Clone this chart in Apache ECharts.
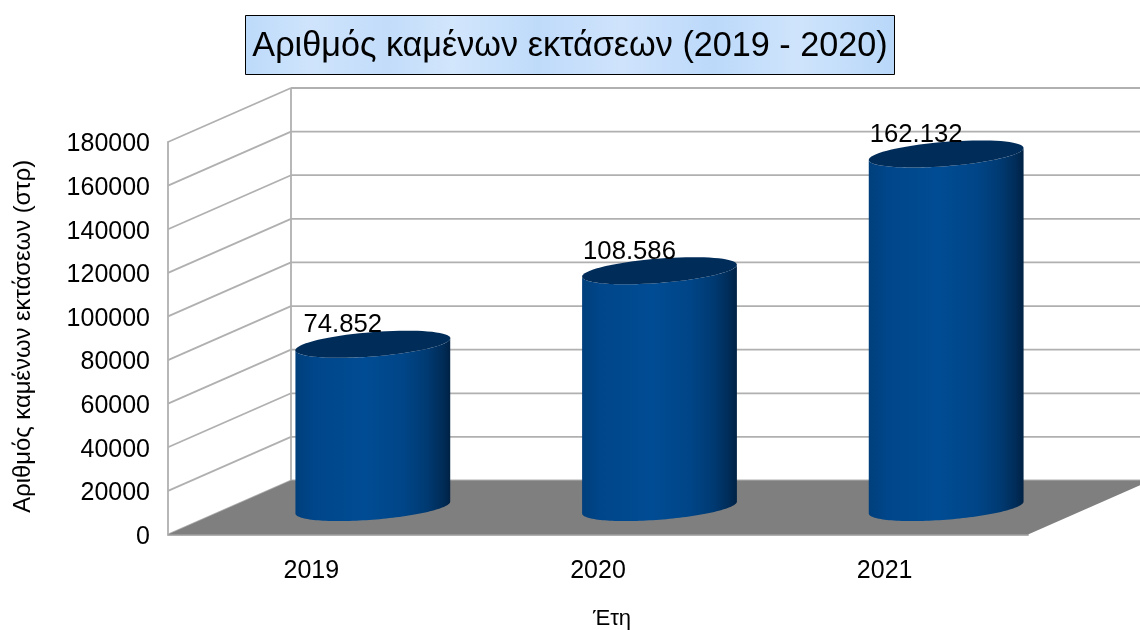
<!DOCTYPE html>
<html><head><meta charset="utf-8">
<style>html,body{margin:0;padding:0;background:#fff}#c{width:1140px;height:630px}</style>
<script src="https://cdn.jsdelivr.net/npm/echarts@6/dist/echarts.min.js"></script>
</head><body><div id="c"></div>
<script>
var categories = ['2019', '2020', '2021'];
var values = [74852, 108586, 162132];
var gridTicks = [0, 20000, 40000, 60000, 80000, 100000, 120000, 140000, 160000, 180000];
var chartTitle = 'Αριθμός καμένων εκτάσεων (2019 - 2020)';
var yName = 'Αριθμός καμένων εκτάσεων (στρ)';
var xName = 'Έτη';

var FONT = '"Liberation Sans", Arial, sans-serif';
var GRID = '#b0b0b0';
var DX = 123, DY = -54;

function thousands(v) { return String(v).replace(/\B(?=(\d{3})+$)/g, '.'); }

function line(x1, y1, x2, y2) {
  return { type: 'line', shape: { x1: x1, y1: y1, x2: x2, y2: y2 }, style: { stroke: GRID, lineWidth: 1.8 } };
}

function renderWalls(params, api) {
  var tick = api.value(0);
  var band = api.size([1, 0])[0];
  var p = api.coord([0, tick]);
  var left = p[0] - band / 2;
  var right = left + band * categories.length;
  var y = p[1];
  var kids = [
    line(left, y, left + DX, y + DY),
    line(left + DX, y + DY, 1140, y + DY)
  ];
  if (tick === 0) {
    var top = api.coord([0, gridTicks[gridTicks.length - 1]])[1];
    kids.unshift(line(left + DX, top + DY, left + DX, y + DY));
    kids.push({
      type: 'polygon',
      shape: { points: [[left, y], [left + DX, y + DY], [right + DX, y + DY], [right, y]] },
      style: { fill: '#7f7f7f' }
    });
  }
  return { type: 'group', children: kids };
}

function ellipsePoints(cx, cy, a, b, k, from, to) {
  var pts = [];
  for (var i = 0; i <= 72; i++) {
    var t = from + (to - from) * i / 72;
    var dx = a * Math.cos(t);
    pts.push([cx + dx, cy - b * Math.sin(t) - k * dx]);
  }
  return pts;
}

function renderCylinder(params, api) {
  var i = api.value(0), v = api.value(1);
  var band = api.size([1, 0])[0];
  var base = api.coord([i, 0]);
  var head = api.coord([i, v]);
  var cx = base[0] + DX / 2;
  var yb = base[1] + DY / 2;
  var yt = head[1] + DY / 2;
  var a = band * 0.27, b = 12.2, k = 0.077;
  var body = ellipsePoints(cx, yb, a, b, k, Math.PI, 2 * Math.PI)
    .concat(ellipsePoints(cx, yt, a, b, k, 0, -Math.PI));
  var grad = new echarts.graphic.LinearGradient(0, 0, 1, 0, [
    { offset: 0, color: '#003f7c' },
    { offset: 0.12, color: '#00468a' },
    { offset: 0.45, color: '#004c94' },
    { offset: 0.7, color: '#004587' },
    { offset: 0.85, color: '#003a72' },
    { offset: 0.95, color: '#002c58' },
    { offset: 1, color: '#002244' }
  ]);
  return {
    type: 'group',
    children: [
      { type: 'polygon', shape: { points: body }, style: { fill: grad } },
      { type: 'polygon', shape: { points: ellipsePoints(cx, yt, a, b, k, 0, 2 * Math.PI) }, style: { fill: '#002c59' } },
      { type: 'text', style: {
          text: thousands(v), x: cx - 30, y: yt - 19, align: 'center', verticalAlign: 'middle',
          font: '25.7px ' + FONT, fill: '#000'
        } }
    ]
  };
}

var chart = echarts.init(document.getElementById('c'), null, { renderer: 'canvas', width: 1140, height: 630 });
chart.setOption({
  animation: false,
  backgroundColor: '#fff',
  textStyle: { fontFamily: FONT },
  title: {
    text: chartTitle, left: 'center', top: 25,
    textStyle: { fontFamily: FONT, fontSize: 34.2, fontWeight: 'normal', color: '#000' }
  },
  graphic: [{
    type: 'rect', z: 0,
    shape: { x: 245.5, y: 15.5, width: 649, height: 59 },
    style: {
      stroke: '#000', lineWidth: 1,
      fill: new echarts.graphic.LinearGradient(0, 0, 1, 0, [
        { offset: 0, color: '#bcdafa' }, { offset: 0.1, color: '#cfe4fc' },
        { offset: 0.22, color: '#c2dcfa' }, { offset: 0.32, color: '#d2e6fc' },
        { offset: 0.45, color: '#bfdbfa' }, { offset: 0.58, color: '#cfe3fc' },
        { offset: 0.72, color: '#bcd9fa' }, { offset: 0.85, color: '#cfe4fc' },
        { offset: 1, color: '#b8d7f9' }
      ])
    }
  }],
  grid: { left: 168, right: 112, top: 142, bottom: 95.5, outerBoundsMode: 'none' },
  xAxis: {
    type: 'category', data: categories,
    axisLine: { show: true, lineStyle: { color: GRID, width: 1.8 } },
    axisTick: { show: false },
    axisLabel: { fontSize: 25, color: '#000', margin: 24 },
    name: xName, nameLocation: 'middle', nameGap: 73,
    nameTextStyle: { fontSize: 22, color: '#000', padding: [0, 0, 0, 28] }
  },
  yAxis: {
    type: 'value', min: 0, max: 180000, interval: 20000,
    axisLine: { show: true, lineStyle: { color: GRID, width: 1.8 } },
    axisTick: { show: false },
    splitLine: { show: false },
    axisLabel: {
      fontSize: 25, color: '#000', margin: 18, verticalAlign: 'top', lineHeight: 5,
      formatter: function (v) { return String(v); }
    },
    name: yName, nameLocation: 'middle', nameGap: 133,
    nameTextStyle: { fontSize: 23.8, color: '#000', padding: [0, 0, 0, 4] }
  },
  series: [
    { type: 'custom', z: 1, silent: true, clip: false, renderItem: renderWalls,
      data: gridTicks.map(function (t) { return [t]; }), encode: { y: 0 } },
    { type: 'custom', z: 2, silent: true, clip: false, renderItem: renderCylinder,
      data: values.map(function (v, i) { return [i, v]; }), encode: { x: 0, y: 1 } }
  ]
});
</script></body></html>
